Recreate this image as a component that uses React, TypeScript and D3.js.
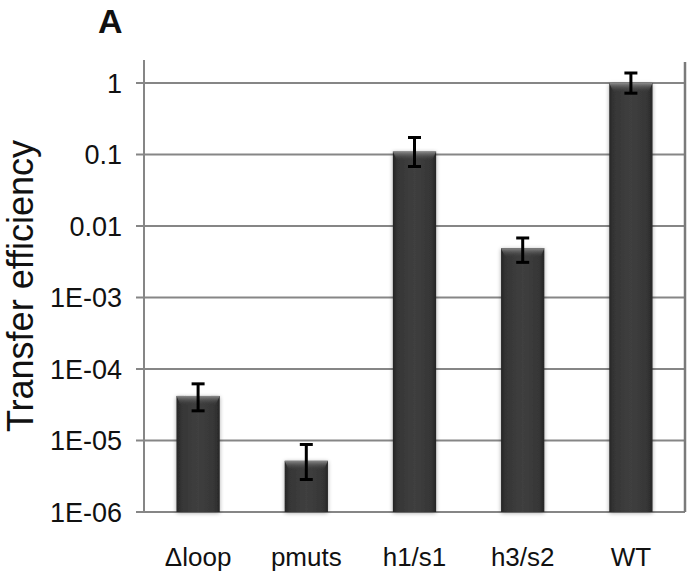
import React from "react";
import * as d3 from "d3";

const categories = ["\u0394loop", "pmuts", "h1/s1", "h3/s2", "WT"];
const values = [4.2e-5, 5.2e-6, 0.11, 0.0049, 1.0];
const errLow = [2.6e-5, 2.85e-6, 0.068, 0.0031, 0.72];
const errHigh = [6.2e-5, 8.8e-6, 0.173, 0.0068, 1.38];
const tickValues = [1, 0.1, 0.01, 1e-3, 1e-4, 1e-5, 1e-6];
const tickLabels = ["1", "0.1", "0.01", "1E-03", "1E-04", "1E-05", "1E-06"];

const width = 695;
const height = 576;
const margin = { top: 62, right: 10, bottom: 64, left: 144 };
const font = "Liberation Sans, Arial, sans-serif";

const App: React.FC = () => {
  const x = d3
    .scaleBand<string>()
    .domain(categories)
    .range([margin.left, width - margin.right])
    .paddingInner(0.6)
    .paddingOuter(0.3);

  const y = d3.scaleLog().domain([1e-6, 1]).range([height - margin.bottom, 83]);

  const bottom = y(1e-6);
  const bw = x.bandwidth();

  return (
    <svg
      width={width}
      height={height}
      style={{ position: "absolute", left: 0, top: 0, background: "#fff" }}
    >
      <defs>
        <linearGradient id="barBody" x1="0" x2="1" y1="0" y2="0">
          <stop offset="0%" stopColor="#262626" />
          <stop offset="12%" stopColor="#363636" />
          <stop offset="50%" stopColor="#3f3f3f" />
          <stop offset="88%" stopColor="#363636" />
          <stop offset="100%" stopColor="#262626" />
        </linearGradient>
        <linearGradient id="barTop" x1="0" x2="0" y1="0" y2="1">
          <stop offset="0%" stopColor="#8a8a8a" />
          <stop offset="100%" stopColor="#424242" stopOpacity="0" />
        </linearGradient>
        <filter id="shadow" x="-20%" y="-10%" width="140%" height="120%">
          <feGaussianBlur in="SourceAlpha" stdDeviation="2" />
          <feOffset dx="0" dy="1" result="b" />
          <feComponentTransfer>
            <feFuncA type="linear" slope="0.35" />
          </feComponentTransfer>
          <feMerge>
            <feMergeNode />
            <feMergeNode in="SourceGraphic" />
          </feMerge>
        </filter>
      </defs>

      {/* panel letter */}
      <text x={98} y={33} fontFamily={font} fontWeight="bold" fontSize={34} fill="#111">
        A
      </text>

      {/* gridlines + ticks */}
      {tickValues.map((t, i) => (
        <g key={i}>
          <line
            x1={margin.left - 8}
            x2={width - margin.right}
            y1={y(t)}
            y2={y(t)}
            stroke="#868686"
            strokeWidth={2}
          />
          <text
            x={122}
            y={y(t)}
            dy="0.36em"
            textAnchor="end"
            fontFamily={font}
            fontSize={27}
            fill="#111"
          >
            {tickLabels[i]}
          </text>
        </g>
      ))}

      {/* axis lines */}
      <line x1={margin.left} x2={margin.left} y1={60} y2={bottom} stroke="#868686" strokeWidth={2} />
      <line
        x1={width - margin.right}
        x2={width - margin.right}
        y1={margin.top}
        y2={bottom}
        stroke="#7a7a7a"
        strokeWidth={2.5}
      />

      {/* bars */}
      {categories.map((c, i) => {
        const x0 = x(c)!;
        const top = y(values[i]);
        return (
          <g key={c} filter="url(#shadow)">
            <rect x={x0} y={top} width={bw} height={bottom - top} fill="url(#barBody)" />
            <path
              d={`M${x0},${top} L${x0 + bw},${top} L${x0 + bw - 4},${top + 9} L${x0 + 4},${top + 9} Z`}
              fill="url(#barTop)"
            />
          </g>
        );
      })}

      {/* error bars */}
      {categories.map((c, i) => {
        const cx = x(c)! + bw / 2;
        const y1 = y(errHigh[i]);
        const y2 = y(errLow[i]);
        return (
          <g key={c} stroke="#000" strokeWidth={3}>
            <line x1={cx} x2={cx} y1={y1} y2={y2} />
            <line x1={cx - 6.5} x2={cx + 6.5} y1={y1} y2={y1} />
            <line x1={cx - 6.5} x2={cx + 6.5} y1={y2} y2={y2} />
          </g>
        );
      })}

      {/* category labels */}
      {categories.map((c) => (
        <text
          key={c}
          x={x(c)! + bw / 2}
          y={566}
          textAnchor="middle"
          fontFamily={font}
          fontSize={26}
          fill="#111"
        >
          {c}
        </text>
      ))}

      {/* y axis title */}
      <text
        transform={`translate(33,286) rotate(-90)`}
        textAnchor="middle"
        fontFamily={font}
        fontSize={36}
        fill="#111"
      >
        Transfer efficiency
      </text>
    </svg>
  );
};

export default App;
